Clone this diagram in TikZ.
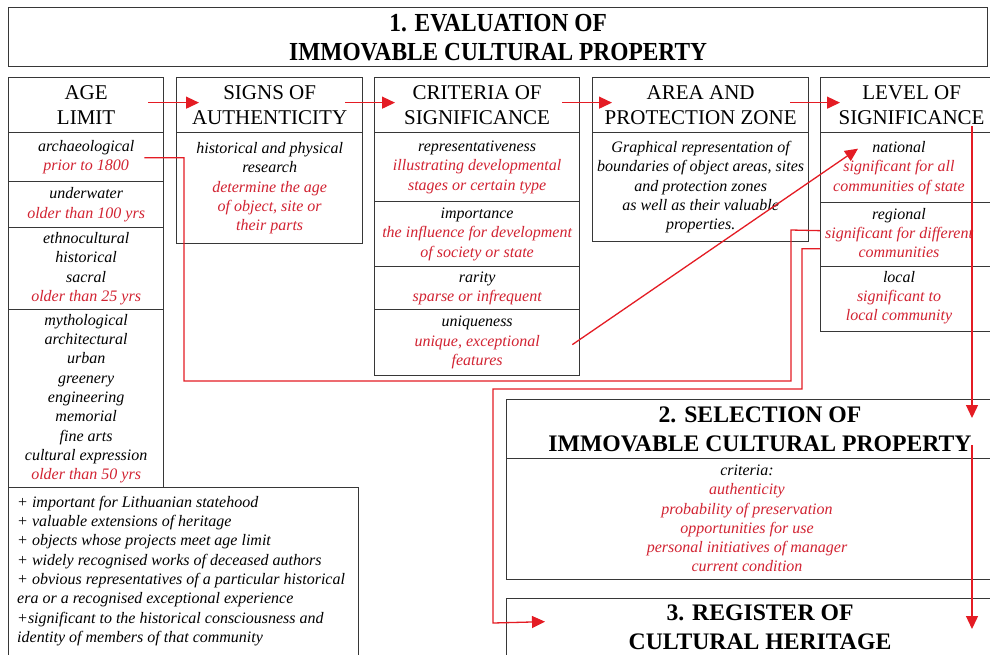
\documentclass[tikz,border=0pt]{standalone}
\usepackage{fontspec}
\usepackage{graphicx}
\setmainfont{Liberation Serif}
\usetikzlibrary{arrows.meta,calc}
\definecolor{txtred}{RGB}{210,35,50}
\definecolor{linered}{RGB}{228,28,36}
\definecolor{boxline}{RGB}{55,55,55}
\newcommand{\rd}[1]{\textcolor{txtred}{#1}}
\tikzset{
  cell/.style={draw=boxline, line width=1.3pt, rectangle, inner sep=0pt, anchor=north west},
  head/.style={font=\fontsize{21}{25}\selectfont, align=center},
  body/.style={font=\fontsize{16}{19.3}\selectfont\itshape, align=center},
  big/.style={font=\fontsize{23.7}{29}\selectfont\bfseries, align=center, inner sep=0pt},
  conn/.style={draw=linered, line width=1.3pt},
  arr/.style={conn, -{Triangle[length=13pt,width=12pt]}},
}
\begin{document}
\begin{tikzpicture}[x=1pt,y=-1pt]
\useasboundingbox (0,0) rectangle (990,654);
\fill[white] (0,0) rectangle (990,654);
\clip (0,0) rectangle (990,654);

% title
\node[cell, minimum width=979pt, minimum height=59pt, font=\fontsize{26}{29}\selectfont\bfseries, align=center] (title) at (8,7)
  {\scalebox{0.9}[1]{1. EVALUATION OF}\\\scalebox{0.9}[1]{IMMOVABLE CULTURAL PROPERTY}};

% age limit column
\node[cell, head, minimum width=155pt, minimum height=55pt] (agehd) at (8,77) {AGE\\LIMIT};
\node[cell, body, minimum width=155pt, minimum height=49pt] (arch) at (8,132) {archaeological\\\rd{prior to 1800}};
\node[cell, body, minimum width=155pt, minimum height=46pt] (under) at (8,181) {underwater\\\rd{older than 100 yrs}};
\node[cell, body, minimum width=155pt, minimum height=82pt] (ethno) at (8,227) {ethnocultural\\historical\\sacral\\\rd{older than 25 yrs}};
\node[cell, body, minimum width=155pt, minimum height=178pt] (myth) at (8,309) {mythological\\architectural\\urban\\greenery\\engineering\\memorial\\fine arts\\cultural expression\\\rd{older than 50 yrs}};
\node[cell, minimum width=350pt, minimum height=190pt] (extra) at (8,487) {};
\node[body, align=left, anchor=west, inner sep=0pt] (extratxt) at (17,571)
  {+ important for Lithuanian statehood\\
   + valuable extensions of heritage\\
   + objects whose projects meet age limit\\
   + widely recognised works of deceased authors\\
   + obvious representatives of a particular historical\\
   era or a recognised exceptional experience\\
   +significant to the historical consciousness and\\
   identity of members of that community};

% signs of authenticity
\node[cell, head, minimum width=186pt, minimum height=55pt] (signhd) at (176,77) {SIGNS OF\\AUTHENTICITY};
\node[cell, body, minimum width=186pt, minimum height=111pt] (signbd) at (176,132)
  {historical and physical\\research\\\rd{determine the age}\\\rd{of object, site or}\\\rd{their parts}};

% criteria of significance
\node[cell, head, minimum width=205pt, minimum height=55pt] (crithd) at (374,77) {CRITERIA OF\\SIGNIFICANCE};
\node[cell, body, minimum width=205pt, minimum height=69pt] (repr) at (374,132)
  {representativeness\\\rd{illustrating developmental}\\\rd{stages or certain type}};
\node[cell, body, minimum width=205pt, minimum height=65pt] (impo) at (374,201)
  {importance\\\rd{the influence for development}\\\rd{of society or state}};
\node[cell, body, minimum width=205pt, minimum height=43pt] (rari) at (374,266)
  {rarity\\\rd{sparse or infrequent}};
\node[cell, body, minimum width=205pt, minimum height=66pt] (uniq) at (374,309)
  {uniqueness\\\rd{unique, exceptional}\\\rd{features}};

% area and protection zone
\node[cell, head, minimum width=216pt, minimum height=55pt] (areahd) at (592,77) {AREA AND\\PROTECTION ZONE};
\node[cell, body, minimum width=216pt, minimum height=109pt] (areabd) at (592,132)
  {Graphical representation of\\boundaries of object areas, sites\\and protection zones\\as well as their valuable\\properties.};

% level of significance
\node[cell, head, minimum width=182pt, minimum height=55pt] (levhd) at (820,77) {LEVEL OF\\SIGNIFICANCE};
\node[cell, minimum width=182pt, minimum height=70pt] (nat) at (820,132) {};
\node[cell, minimum width=182pt, minimum height=64pt] (reg) at (820,202) {};
\node[cell, minimum width=182pt, minimum height=65pt] (loc) at (820,266) {};
\node[body] (nattxt) at (899,168) {national\\\rd{significant for all}\\\rd{communities of state}};
\node[body] (regtxt) at (899,233) {regional\\\rd{significant for different}\\\rd{communities}};
\node[body] (loctxt) at (899,297.5) {local\\\rd{significant to}\\\rd{local community}};

% selection
\node[cell, minimum width=508pt, minimum height=59pt] (selhd) at (506,399) {};
\node[cell, minimum width=508pt, minimum height=121pt] (selbd) at (506,458) {};
\node[big] (seltxt) at (760,429.5) {2. SELECTION OF\\IMMOVABLE CULTURAL PROPERTY};
\node[body] (selcrit) at (747,518.5)
  {criteria:\\\rd{authenticity}\\\rd{probability of preservation}\\\rd{opportunities for use}\\\rd{personal initiatives of manager}\\\rd{current condition}};

% register
\node[cell, minimum width=508pt, minimum height=80pt] (reghd) at (506,598) {};
\node[big] (regtxt3) at (760,627.5) {3. REGISTER OF\\CULTURAL HERITAGE};

% connectors
\draw[arr] ($(agehd.east)+(-16,-2.5)$) -- ($(signhd.west)+(23,-2.5)$);
\draw[arr] ($(signhd.east)+(-18,-2.5)$) -- ($(crithd.west)+(21,-2.5)$);
\draw[arr] ($(crithd.east)+(-18,-2.5)$) -- ($(areahd.west)+(20,-2.5)$);
\draw[arr] ($(areahd.east)+(-19,-2.5)$) -- ($(levhd.west)+(20,-2.5)$);

\draw[conn] ($(arch.east)+(-20,0.5)$) -| (184,381) -| (791,230) -- ($(reg.west)+(0,-4)$);
\draw[arr] ($(reg.west)+(0,14)$) -| (802,389) -| (493,623) -- ($(reghd.west)+(39,-17)$);
\draw[arr] ($(uniq.east)+(-8,2)$) -- ($(nat.west)+(38,-19)$);
\draw[arr] ($(levhd.south west)+(152,-7)$) -- ($(selhd.north west)+(466,19)$);
\draw[arr] ($(selhd.north west)+(466,46)$) -- ($(reghd.north west)+(466,31)$);
\end{tikzpicture}
\end{document}
